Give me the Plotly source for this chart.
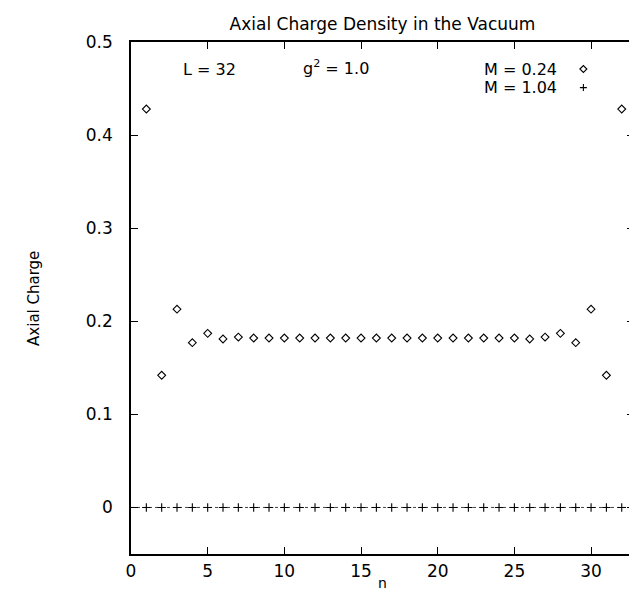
import plotly.graph_objects as go

# Data
n_sites = list(range(1, 33))
charge_m024 = [0.428, 0.142, 0.213, 0.177, 0.187, 0.181, 0.183, 0.182,
               0.182, 0.182, 0.182, 0.182, 0.182, 0.182, 0.182, 0.182,
               0.182, 0.182, 0.182, 0.182, 0.182, 0.182, 0.182, 0.182,
               0.182, 0.181, 0.183, 0.187, 0.177, 0.213, 0.142, 0.428]
charge_m104 = [0.0] * 32
x_ticks = [0, 5, 10, 15, 20, 25, 30]
y_ticks = [0, 0.1, 0.2, 0.3, 0.4, 0.5]
y_tick_text = ["0", "0.1", "0.2", "0.3", "0.4", "0.5"]

FONT = "DejaVu Sans, Liberation Sans, Arial, sans-serif"

fig = go.Figure()
fig.add_trace(go.Scatter(
    x=n_sites, y=charge_m024, mode="markers", name="M = 0.24",
    marker=dict(symbol="diamond-open", size=6, color="black",
                line=dict(color="black", width=1.1)),
    showlegend=False))
fig.add_trace(go.Scatter(
    x=n_sites, y=charge_m104, mode="markers", name="M = 1.04",
    marker=dict(symbol="cross-thin", size=6, color="black",
                line=dict(color="black", width=1.1)),
    showlegend=False))

# dotted zero axis
fig.add_shape(type="line", xref="x domain", yref="y", x0=0, x1=1, y0=0, y1=0,
              line=dict(color="#444", width=1, dash="dot"), layer="below")

# legend keys (text then symbol, as in the original)
fig.add_annotation(x=27.9, y=0.471, xref="x", yref="y", text="M = 0.24",
                   showarrow=False, xanchor="right", yanchor="middle",
                   font=dict(size=16, color="black", family=FONT))
fig.add_annotation(x=27.9, y=0.451, xref="x", yref="y", text="M = 1.04",
                   showarrow=False, xanchor="right", yanchor="middle",
                   font=dict(size=16, color="black", family=FONT))
fig.add_shape(type="path", xref="x", yref="y", xsizemode="pixel", ysizemode="pixel",
              xanchor=29.5, yanchor=0.471,
              path="M -3.5,0 L 0,3.5 L 3.5,0 L 0,-3.5 Z",
              line=dict(color="black", width=1.1))
fig.add_shape(type="path", xref="x", yref="y", xsizemode="pixel", ysizemode="pixel",
              xanchor=29.5, yanchor=0.451,
              path="M -3.5,0 L 3.5,0 M 0,-3.5 L 0,3.5",
              line=dict(color="black", width=1.1))

fig.add_annotation(x=5.1, y=0.471, xref="x", yref="y", text="L = 32",
                   showarrow=False, xanchor="center", yanchor="middle",
                   font=dict(size=16, color="black", family=FONT))
fig.add_annotation(x=13.4, y=0.473, xref="x", yref="y", text="g<sup>2</sup> = 1.0",
                   showarrow=False, xanchor="center", yanchor="middle",
                   font=dict(size=16, color="black", family=FONT))

# axis titles
fig.add_annotation(x=-0.193, y=0.5, xref="paper", yref="paper", text="Axial Charge",
                   textangle=-90, showarrow=False, xanchor="center", yanchor="middle",
                   font=dict(size=15, color="black", family=FONT))
fig.add_annotation(x=0.5, y=-0.057, xref="paper", yref="paper", text="n",
                   showarrow=False, xanchor="center", yanchor="middle",
                   font=dict(size=14, color="black", family=FONT))

axis_common = dict(showline=True, linecolor="black", linewidth=1.5, mirror="ticks",
                   ticks="inside", ticklen=7, tickwidth=1, tickcolor="black",
                   showgrid=False, zeroline=False,
                   tickfont=dict(size=17, color="black", family=FONT))

fig.update_xaxes(range=[0, 32.8], tickvals=x_ticks, ticklabelstandoff=1,
                 **axis_common)
fig.update_yaxes(range=[-0.05, 0.5], tickvals=y_ticks, ticktext=y_tick_text,
                 ticklabelstandoff=13,
                 **axis_common)

fig.update_layout(
    width=637, height=590,
    margin=dict(l=123, r=9, t=34, b=44),
    paper_bgcolor="white", plot_bgcolor="white",
    title=dict(text="Axial Charge Density in the Vacuum", xref="paper", x=0.5,
               xanchor="center", y=0.973, yanchor="middle",
               font=dict(size=17, color="black", family=FONT)),
)

fig.write_html("out.html")
